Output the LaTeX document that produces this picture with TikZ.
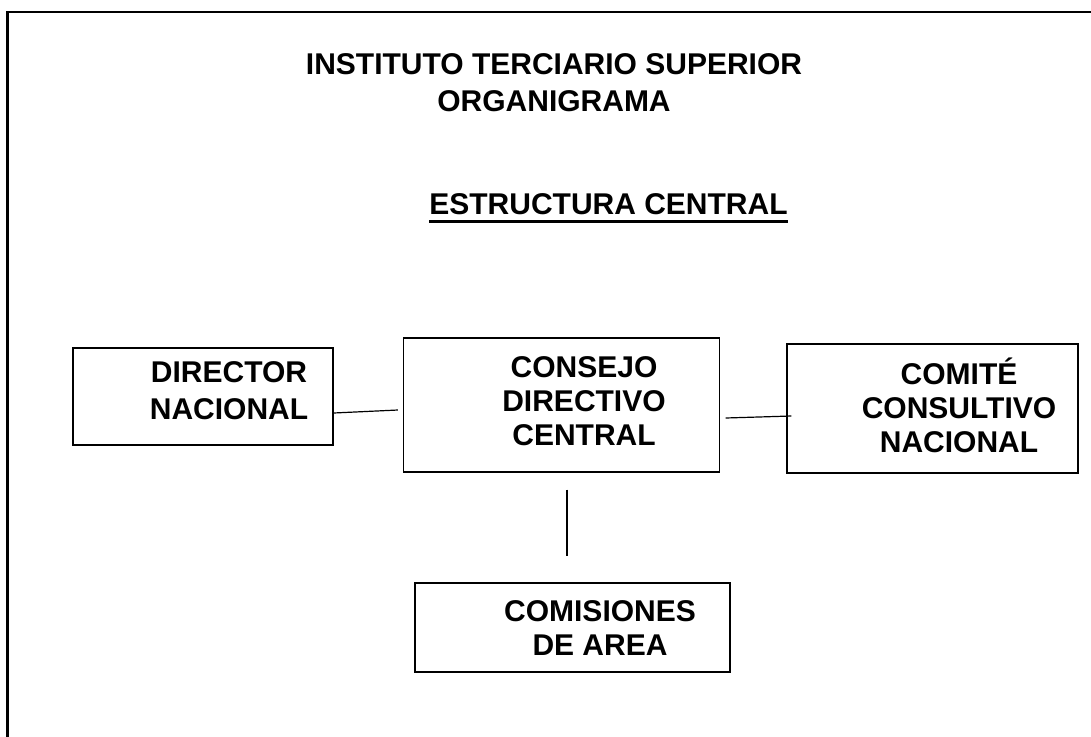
\documentclass[tikz,border=0pt]{standalone}
\usepackage{fontspec}
\setmainfont{Liberation Sans}
\usepackage{tikz}
\usetikzlibrary{calc}
\newcommand{\drawframe}{\draw[line width=2pt]}
\newcommand{\orgfont}[1]{\fontsize{22.5}{#1}\selectfont\bfseries}
\tikzset{
  orgbox/.style={draw, line width=0.9pt, rectangle, inner sep=0pt},
  orgtext/.style={align=center, inner sep=0pt, font=\orgfont{25.5}},
  orgline/.style={line width=0.9pt}
}

\begin{document}
\begin{tikzpicture}[x=0.75pt,y=-0.75pt]
\useasboundingbox (0,0) rectangle (1091,736);
\drawframe (1100,12)--(7.5,12)--(7.5,745);
\node[orgtext, font=\orgfont{27.75}] (titulo) at (554,82.75) {INSTITUTO TERCIARIO SUPERIOR\\ORGANIGRAMA};
\node[orgtext] (estructura) at (608.5,204.5) {ESTRUCTURA CENTRAL};
\draw[line width=1.8pt] ($(estructura.south west)+(0,6)$)--($(estructura.south east)+(0,6)$);
\node[orgbox, minimum width=195pt, minimum height=72.75pt] (director) at (203,396.5) {};
\node[orgbox, minimum width=237pt, minimum height=100.5pt] (consejo) at (561.5,405) {};
\node[orgbox, minimum width=218.25pt, minimum height=96.75pt] (comite) at (932.5,408.5) {};
\node[orgbox, minimum width=236.25pt, minimum height=66.75pt] (comisiones) at (572.5,627.5) {};
\node[orgtext, font=\orgfont{27.4}] (directortxt) at (229,390.75) {DIRECTOR\\NACIONAL};
\node[orgtext] (consejotxt) at (584,401) {CONSEJO\\DIRECTIVO\\CENTRAL};
\node[orgtext] (comitetxt) at (959,405) {COMITÉ\\CONSULTIVO\\NACIONAL};
\node[orgtext] (comisionestxt) at (600,628) {COMISIONES\\DE AREA};
\draw[orgline] ($(director.east)+(0,16.5)$)--($(consejo.west)+(-5,5)$);
\draw[orgline] ($(consejo.east)+(5.5,13)$)--($(comite.west)+(5,7.5)$);
\draw[orgline] ($(consejo.south)+(5.5,17)$)--($(comisiones.north)+(-5.5,-26)$);
\end{tikzpicture}
\end{document}
